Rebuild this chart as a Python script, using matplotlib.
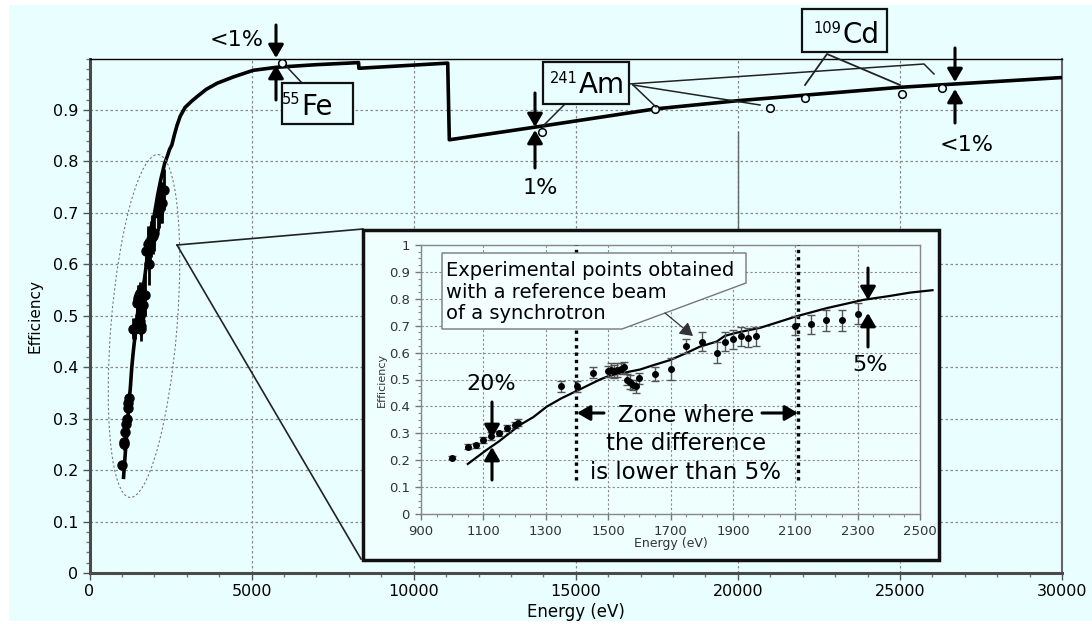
import numpy as np
import matplotlib.pyplot as plt
import matplotlib.transforms as mtransforms
from matplotlib.patches import Rectangle, Ellipse, Polygon, FancyArrowPatch
from matplotlib.lines import Line2D
from matplotlib.ticker import MultipleLocator, FuncFormatter

W, H = 1092, 624
BG = "#e9ffff"

# synchrotron reference-beam points (eV, efficiency, error)
exp_energy = [1000, 1050, 1075, 1100, 1125, 1150, 1175, 1200, 1210, 1350, 1400,
              1450, 1500, 1510, 1520, 1530, 1540, 1550, 1560, 1570, 1580, 1590,
              1600, 1650, 1700, 1750, 1800, 1850, 1875, 1900, 1925, 1950, 1975,
              2100, 2150, 2200, 2250, 2300]
exp_eff = [0.21, 0.25, 0.255, 0.275, 0.29, 0.30, 0.32, 0.33, 0.34, 0.475, 0.475,
           0.525, 0.53, 0.535, 0.53, 0.535, 0.54, 0.545, 0.50, 0.49, 0.48, 0.475,
           0.505, 0.52, 0.54, 0.625, 0.64, 0.60, 0.64, 0.65, 0.66, 0.655, 0.66,
           0.70, 0.705, 0.72, 0.72, 0.745]
exp_err = [0.005, 0.01, 0.01, 0.012, 0.015, 0.01, 0.01, 0.012, 0.012, 0.02, 0.02,
           0.02, 0.02, 0.025, 0.025, 0.025, 0.02, 0.02, 0.02, 0.025, 0.02, 0.025,
           0.02, 0.025, 0.04, 0.025, 0.035, 0.04, 0.035, 0.035, 0.035, 0.035, 0.035,
           0.035, 0.035, 0.04, 0.04, 0.04]

# simulated efficiency curve
model_energy = [1050, 1110, 1150, 1217, 1260, 1303, 1350, 1400, 1474, 1506, 1550,
                1602, 1650, 1698, 1750, 1794, 1848, 1874, 1912, 1987, 2050, 2104,
                2200, 2318, 2400, 2468, 2540, 2620, 2700, 2800, 2950, 3150, 3320,
                3600, 3940, 4430, 5050, 5780, 7000, 8300, 8310, 11050, 11100, 13785,
                17450, 20000, 25000, 30000]
model_eff = [0.186, 0.238, 0.27, 0.331, 0.36, 0.399, 0.43, 0.458, 0.50, 0.515, 0.525,
             0.537, 0.555, 0.572, 0.598, 0.622, 0.641, 0.662, 0.674, 0.692, 0.715, 0.735,
             0.765, 0.796, 0.81, 0.823, 0.832, 0.852, 0.87, 0.888, 0.905, 0.917, 0.926,
             0.94, 0.952, 0.964, 0.977, 0.983, 0.988, 0.992, 0.981, 0.991, 0.842, 0.867,
             0.902, 0.918, 0.944, 0.963]
inset_n = 27  # the inset shows the curve up to 2540 eV

# radioactive source points (55Fe, 241Am, 109Cd)
src_energy = [5940, 13950, 17450, 20990, 22060, 25050, 26300]
src_eff = [0.991, 0.857, 0.902, 0.904, 0.923, 0.931, 0.943]

zone_edges = [1397, 2108]
inset_xticks = [900, 1100, 1300, 1500, 1700, 1900, 2100, 2300, 2500]

plt.rcParams["font.family"] = ["DejaVu Sans"]

fig = plt.figure(figsize=(W / 100, H / 100), dpi=100)
fig.patch.set_facecolor("white")
# pixel coordinates of the picture, y pointing down
P = mtransforms.Affine2D().scale(1 / W, -1 / H).translate(0, 1) + fig.transFigure

fig.add_artist(Rectangle((9, 5), W - 9, 616, transform=P, facecolor=BG,
                         edgecolor="none", zorder=-5))

# ---------------- main axes ----------------
ax = fig.add_axes([89.5 / W, 1 - 573 / H, (1062 - 89.5) / W, (573 - 58.5) / H])
ax.set_facecolor(BG)
ax.set_zorder(0)
ax.plot(model_energy, model_eff, color="black", lw=2.6, zorder=3)
ax.errorbar(exp_energy, exp_eff, yerr=exp_err, fmt="o", ms=6.5, color="black",
            elinewidth=2, capsize=0, zorder=3)
ax.plot(src_energy, src_eff, "o", ms=5.5, mfc=BG, mec="black", mew=1.1, zorder=4)

ax.set_xlim(0, 30000)
ax.set_ylim(0, 1.0)
ax.xaxis.set_major_locator(MultipleLocator(5000))
ax.xaxis.set_minor_locator(MultipleLocator(1000))
ax.set_yticks(np.arange(0, 0.95, 0.1))
ax.yaxis.set_minor_locator(MultipleLocator(0.02))
ax.yaxis.set_major_formatter(FuncFormatter(lambda v, p: "%g" % round(v, 2)))
ax.grid(True, which="major", linestyle=(0, (2, 2)), color="#8a8a8a", lw=0.9)
ax.tick_params(which="major", direction="out", length=5, width=1, color="#555",
               labelsize=11.5, pad=3)
ax.tick_params(which="minor", direction="out", length=3, width=1, color="#777")
for s in ("left", "bottom"):
    ax.spines[s].set_color("#4a4a4a")
    ax.spines[s].set_linewidth(2.2)
ax.spines["top"].set_color("black")
ax.spines["top"].set_linewidth(1)
ax.spines["right"].set_color("#666")
ax.spines["right"].set_linewidth(1.5)
ax.set_xlabel("Energy (eV)", fontsize=12)
ax.set_ylabel("Efficiency", fontsize=11)
ax.xaxis.set_label_coords(0.5, (573 - 612) / 514.5)
ax.xaxis.label.set_va("center")
ax.yaxis.set_label_coords((35 - 89.5) / 972.5, 0.5)
ax.yaxis.label.set_va("center")

# ---------------- zoom ellipse and connecting lines ----------------
fig.add_artist(Ellipse((144, 326), 66, 344, angle=4.7, transform=P, fill=False,
                       edgecolor="#777", lw=0.8, linestyle=(0, (2, 2)), zorder=1))
fig.add_artist(Line2D([177, 363], [245, 229], transform=P, color="#222", lw=1.2, zorder=1))
fig.add_artist(Line2D([177, 361], [245, 559], transform=P, color="#222", lw=1.2, zorder=1))
fig.add_artist(Line2D([738, 738], [132, 230], transform=P, color="#666", lw=1, zorder=1))

# inset frame
fig.add_artist(Rectangle((363, 230), 576, 330, transform=P, facecolor="#eefffe",
                         edgecolor="#111", lw=2.5, zorder=1.5))

# ---------------- inset ----------------
axi = fig.add_axes([421 / W, 1 - 514 / H, (920 - 421) / W, (514 - 245) / H])
axi.set_zorder(2)
axi.set_facecolor("#eefffe")
axi.plot(model_energy[:inset_n], model_eff[:inset_n], color="black", lw=1.6,
         clip_on=False, zorder=3)
axi.errorbar(exp_energy, exp_eff, yerr=exp_err, fmt="o", ms=4, mfc="black", mec="black",
             ecolor="#555", elinewidth=1, capsize=3, capthick=1, zorder=4)
for e in zone_edges:
    axi.plot([e, e], [0.126, 1.0], color="black", lw=2.4, linestyle=(0, (1, 1.2)), zorder=3)
axi.set_xlim(900, 2500)
axi.set_ylim(0, 1)
axi.set_xticks(inset_xticks)
axi.xaxis.set_minor_locator(MultipleLocator(50))
axi.yaxis.set_major_locator(MultipleLocator(0.1))
axi.yaxis.set_minor_locator(MultipleLocator(0.025))
axi.yaxis.set_major_formatter(FuncFormatter(lambda v, p: "%g" % round(v, 2)))
axi.grid(True, which="major", linestyle=(0, (2, 2)), color="#8a8a8a", lw=0.8)
axi.tick_params(which="major", direction="out", length=4, width=1, color="#777",
                labelsize=9.5, labelcolor="#333", pad=4)
axi.tick_params(which="minor", direction="out", length=2.5, width=0.8, color="#888")
for s in axi.spines.values():
    s.set_color("#888")
    s.set_linewidth(1)
axi.set_xlabel("Energy (eV)", fontsize=9, color="#333")
axi.set_ylabel("Efficiency", fontsize=8, color="#333")
axi.xaxis.set_label_coords(0.5, (514 - 543) / 269)
axi.xaxis.label.set_va("center")
axi.yaxis.set_label_coords((382 - 421) / 499, 0.5)
axi.yaxis.label.set_va("center")

# ---------------- annotations (pixel coordinates) ----------------
Z = 6


def arrow(x0, y0, x1, y1, lw=2.2, scale=12, color="black"):
    fig.add_artist(FancyArrowPatch((x0, y0), (x1, y1), transform=P,
                                   arrowstyle="-|>,head_length=0.65,head_width=0.38",
                                   mutation_scale=scale, lw=lw, color=color,
                                   shrinkA=0, shrinkB=0, zorder=Z))


def line(xs, ys, lw=1.1, color="#222"):
    fig.add_artist(Line2D(xs, ys, transform=P, color=color, lw=lw, zorder=Z))


def text(x, y, s, size, ha="center", va="center", **kw):
    fig.text(x, y, s, transform=P, fontsize=size, ha=ha, va=va, zorder=Z + 1, **kw)


def box(x0, y0, x1, y1):
    fig.add_artist(Rectangle((x0, y0), x1 - x0, y1 - y0, transform=P, facecolor=BG,
                             edgecolor="#111", lw=1.6, zorder=Z))


# <1% at 55Fe
text(237, 40, "<1%", 16)
arrow(276, 25, 276, 58)
arrow(276, 100, 276, 65)
# 1% at 241Am 13.9 keV
text(540, 188, "1%", 16)
arrow(535, 93, 535, 127)
arrow(535, 168, 535, 130)
# <1% at high energy
text(967, 145, "<1%", 16)
arrow(955, 48, 955, 82)
arrow(955, 123, 955, 89)

# 55Fe label
line([302, 287], [83, 67])
box(282, 83, 353, 124)
text(300, 104, "55", 10.5, ha="right", va="baseline")
text(301, 115, "Fe", 20, ha="left", va="baseline")

# 241Am label
line([565, 543], [104, 126])
line([633, 656], [85, 107])
line([633, 760], [85, 105])
line([629, 924, 934], [84, 64, 74])
box(543, 62, 629, 104)
text(578, 83, "241", 10.5, ha="right", va="baseline")
text(579, 93, "Am", 20, ha="left", va="baseline")

# 109Cd label
line([805, 827, 900], [85, 54, 85], lw=1.3)
box(802, 9, 887, 52)
text(841, 33, "109", 10.5, ha="right", va="baseline")
text(842, 43, "Cd", 20, ha="left", va="baseline")

# callout for the synchrotron points
fig.add_artist(Polygon([(442, 253), (746, 253), (746, 283), (622, 329), (442, 329)],
                       closed=True, transform=P, facecolor="#f4ffff", edgecolor="#777",
                       lw=1, zorder=Z))
text(446, 292, "Experimental points obtained\nwith a reference beam\nof a synchrotron",
     14, ha="left", va="center", linespacing=1.15)
arrow(665, 313, 693, 336, lw=0.9, scale=12, color="#333")

# 20% and 5%
text(491, 384, "20%", 16)
arrow(492, 402, 492, 438)
arrow(492, 480, 492, 447)
text(870, 365, "5%", 16)
arrow(868, 268, 868, 300)
arrow(868, 347, 868, 313)

# zone text
text(686, 444, "Zone where\nthe difference\nis lower than 5%", 16.5, linespacing=1.3)
arrow(604, 413, 577, 413)
arrow(762, 413, 798, 413)

fig.savefig("out.png", dpi=100, facecolor=fig.get_facecolor())
